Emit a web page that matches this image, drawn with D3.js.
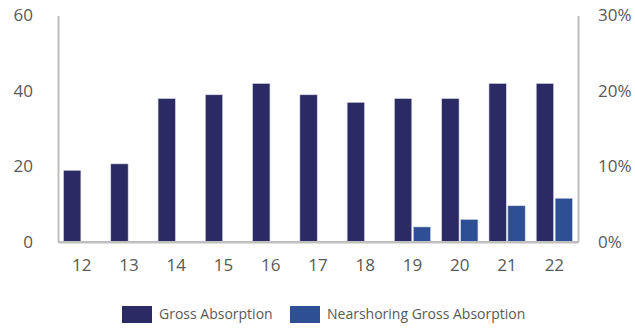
<!DOCTYPE html>
<html>
<head>
<meta charset="utf-8">
<script src="https://cdn.jsdelivr.net/npm/d3@7"></script>
<style>
  html, body { margin: 0; padding: 0; background: #ffffff; }
  svg { display: block; font-family: "Open Sans", "Noto Sans", sans-serif; }
</style>
</head>
<body>
<svg id="chart" width="635" height="329"></svg>
<script>
// Years (20xx) on the x axis
const years = ["12", "13", "14", "15", "16", "17", "18", "19", "20", "21", "22"];
// Gross absorption, left axis
const grossAbsorption = [19, 20.7, 38, 39, 42, 39, 37, 38, 38, 42, 42];
// Nearshoring share of gross absorption, right axis (%)
const nearshoringPct = [null, null, null, null, null, null, null, 2, 3, 4.8, 5.8];
const leftTicks = [0, 20, 40, 60];
const rightTicks = [0, 10, 20, 30];
const seriesNames = ["Gross Absorption", "Nearshoring Gross Absorption"];
const colors = ["#2c2a64", "#2e4f94"];

const svg = d3.select("#chart");
const m = { left: 58, right: 578, top: 15.5, bottom: 242 };

const x = d3.scaleBand().domain(years).range([m.left, m.right]).paddingInner(0).paddingOuter(0);
const inner = d3.scaleBand().domain([0, 1]).range([5.5, x.bandwidth() - 5.5]).paddingInner(0.08);
const yL = d3.scaleLinear().domain([0, 60]).range([m.bottom, m.top]);
const yR = d3.scaleLinear().domain([0, 30]).range([m.bottom, m.top]);

const axisColor = "#bfbfbf";
const textColor = "#595959";

// Left axis
const gL = svg.append("g").attr("transform", `translate(${m.left},0)`)
  .call(d3.axisLeft(yL).tickValues(leftTicks).tickSize(0).tickPadding(25));
// Right axis
const gR = svg.append("g").attr("transform", `translate(${m.right},0)`)
  .call(d3.axisRight(yR).tickValues(rightTicks).tickSize(0).tickPadding(20)
    .tickFormat(d => d + "%"));
// Bottom axis
const gB = svg.append("g").attr("transform", `translate(0,${m.bottom})`)
  .call(d3.axisBottom(x).tickSize(0).tickPadding(17));

[gL, gR, gB].forEach(g => {
  g.select(".domain").attr("stroke", axisColor).attr("stroke-width", 2);
  g.selectAll("text").attr("fill", textColor).attr("font-size", 17)
    .attr("font-family", "'Open Sans', 'Noto Sans', sans-serif");
});
gB.selectAll(".tick text").attr("dy", "0.71em");

// Bars
const groups = svg.append("g").selectAll("g").data(years).join("g")
  .attr("transform", d => `translate(${x(d)},0)`);

groups.append("rect")
  .attr("x", inner(0))
  .attr("width", inner.bandwidth())
  .attr("y", (d, i) => yL(grossAbsorption[i]))
  .attr("height", (d, i) => yL(0) - yL(grossAbsorption[i]))
  .attr("fill", colors[0])
  .attr("stroke", "#d9d9e6").attr("stroke-width", 0.6);

groups.filter((d, i) => nearshoringPct[i] != null).append("rect")
  .attr("x", inner(1))
  .attr("width", inner.bandwidth())
  .attr("y", d => yR(nearshoringPct[years.indexOf(d)]))
  .attr("height", d => yR(0) - yR(nearshoringPct[years.indexOf(d)]))
  .attr("fill", colors[1])
  .attr("stroke", "#d9deea").attr("stroke-width", 0.6);

// Redraw baseline over the bar bottoms
svg.append("line")
  .attr("x1", m.left).attr("x2", m.right)
  .attr("y1", m.bottom).attr("y2", m.bottom)
  .attr("stroke", axisColor).attr("stroke-width", 2);

// Legend
const legendX = [122, 290];
const legend = svg.append("g").selectAll("g").data(seriesNames).join("g")
  .attr("transform", (d, i) => `translate(${legendX[i]},306)`);
legend.append("rect").attr("width", 30).attr("height", 17)
  .attr("fill", (d, i) => colors[i]);
legend.append("text").attr("x", 37).attr("y", 8.5).attr("dy", "0.35em")
  .attr("font-size", 14).attr("fill", textColor)
  .text(d => d);
</script>
</body>
</html>
